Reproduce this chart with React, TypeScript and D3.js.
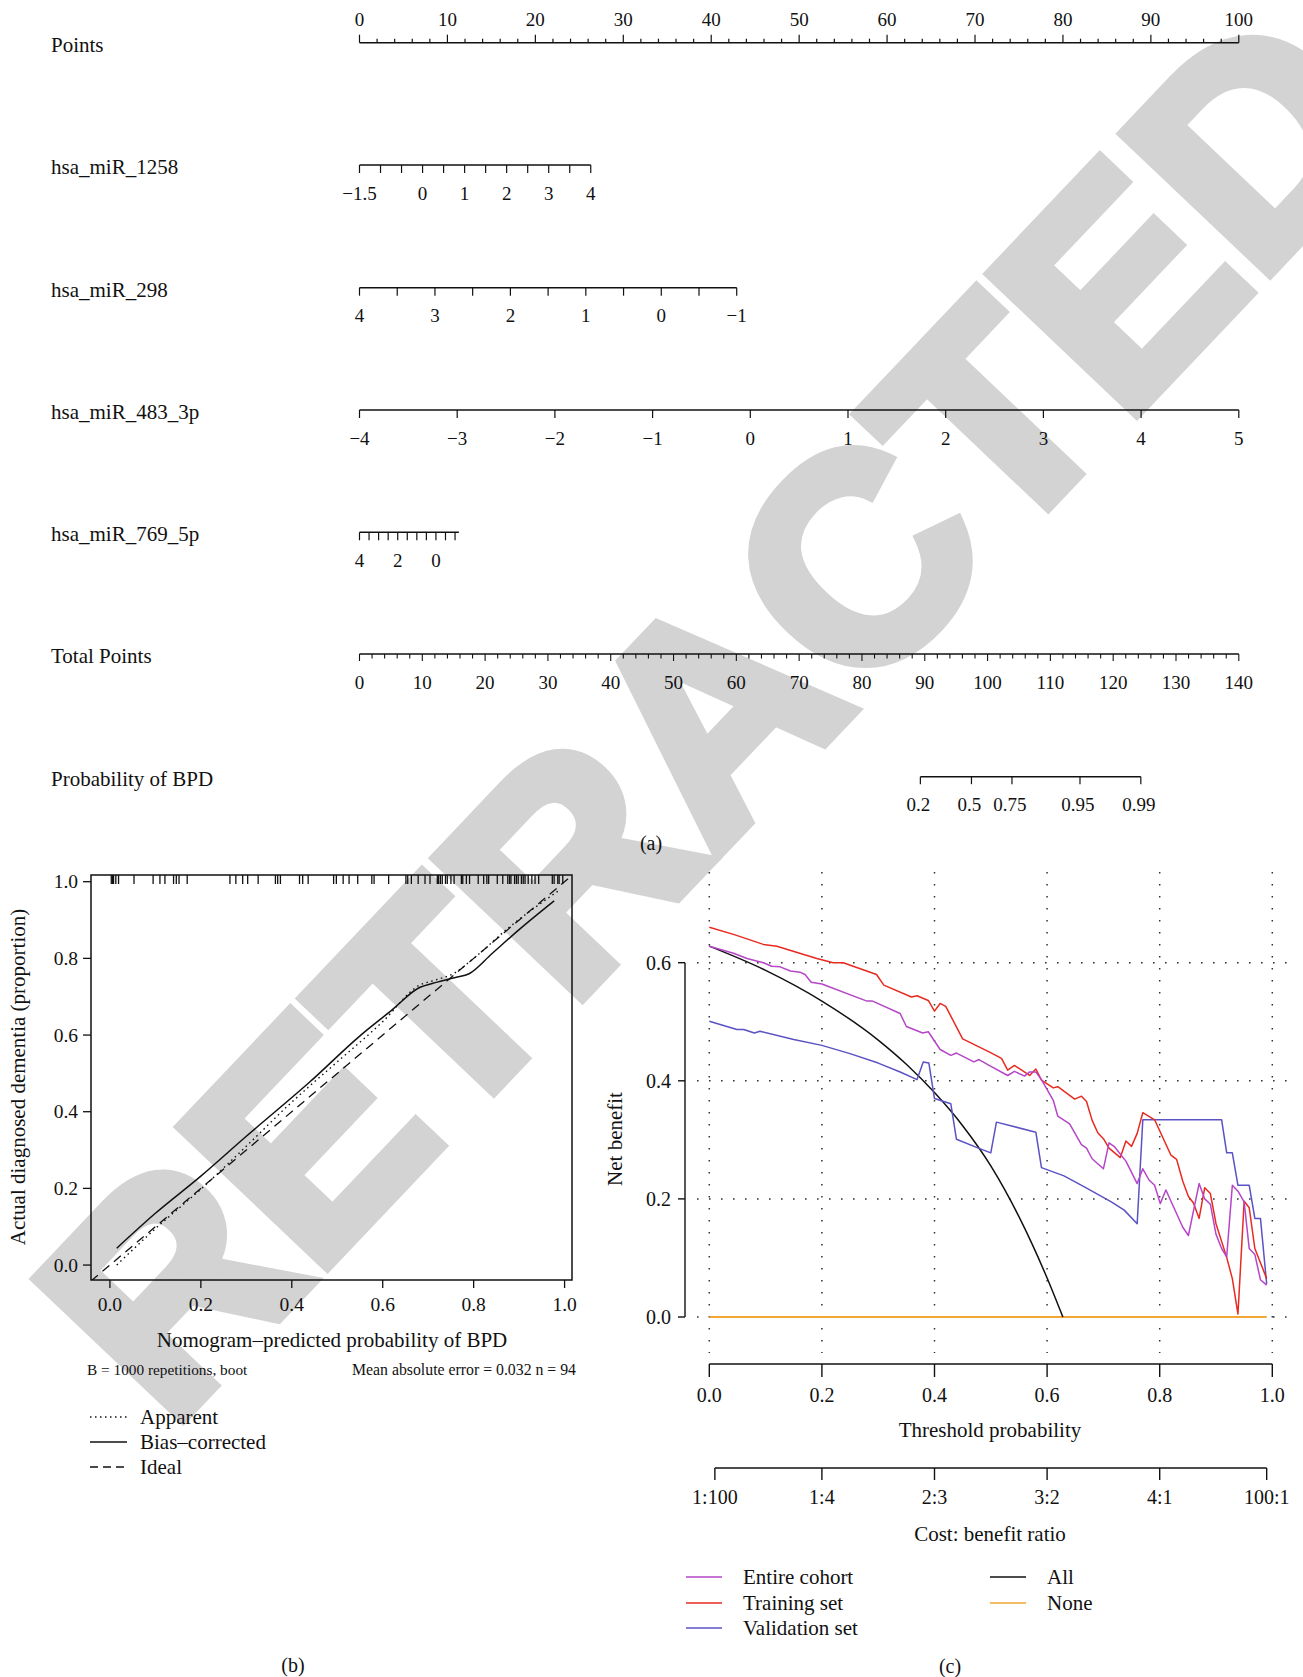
import React, {useEffect, useRef} from "react";
import * as d3 from "d3";

const SERIF = "'Liberation Serif', 'Times New Roman', serif";
const W = 1303;
const H = 1677;

// ---- (a) nomogram ----
const pointsLabels = [0, 10, 20, 30, 40, 50, 60, 70, 80, 90, 100];
const varNames = ["hsa_miR_1258", "hsa_miR_298", "hsa_miR_483_3p", "hsa_miR_769_5p"];
const varRange = [[-1.5, 4], [4, -1], [-4, 5], [4, -1.2]];
const varPointsMax = [26.3, 42.9, 100, 11.3];
const varTicks = [
    [-1.5, -1, -0.5, 0, 0.5, 1, 1.5, 2, 2.5, 3, 3.5, 4],
    [4, 3.5, 3, 2.5, 2, 1.5, 1, 0.5, 0, -0.5, -1],
    [-4, -3, -2, -1, 0, 1, 2, 3, 4, 5],
    [4, 3.5, 3, 2.5, 2, 1.5, 1, 0.5, 0, -0.5, -1],
];
const varLabels = [
    [-1.5, 0, 1, 2, 3, 4],
    [4, 3, 2, 1, 0, -1],
    [-4, -3, -2, -1, 0, 1, 2, 3, 4, 5],
    [4, 2, 0],
];
const totalLabels = [0, 10, 20, 30, 40, 50, 60, 70, 80, 90, 100, 110, 120, 130, 140];
const probTicks = [0.2, 0.5, 0.75, 0.95, 0.99];
const probTickText = ["0.2", "0.5", "0.75", "0.95", "0.99"];
const probTotalRange = [89.3, 124.4];

// ---- (b) calibration ----
const rugValues = [0.003, 0.006, 0.008, 0.013, 0.019, 0.053, 0.095, 0.11, 0.121, 0.14, 0.146, 0.152, 0.17,
    0.264, 0.277, 0.292, 0.303, 0.326, 0.364, 0.369, 0.375, 0.417, 0.424, 0.436, 0.492, 0.498, 0.513, 0.526,
    0.545, 0.576, 0.581, 0.613, 0.651, 0.655, 0.663, 0.678, 0.693, 0.704, 0.72, 0.723, 0.727, 0.731, 0.738,
    0.742, 0.75, 0.757, 0.773, 0.776, 0.784, 0.791, 0.81, 0.822, 0.829, 0.833, 0.852, 0.864, 0.875, 0.879,
    0.882, 0.89, 0.894, 0.898, 0.905, 0.909, 0.913, 0.92, 0.928, 0.935, 0.943, 0.973, 0.977, 0.985, 0.988, 0.996];
const apparent = [[0.015, 0.0], [0.1, 0.095], [0.2, 0.198], [0.3, 0.31], [0.4, 0.425], [0.5, 0.53],
    [0.6, 0.635], [0.678, 0.728], [0.72, 0.745], [0.755, 0.76], [0.8, 0.8], [0.875, 0.878], [0.985, 0.975]];
const biasCorrected = [[0.015, 0.044], [0.1, 0.135], [0.2, 0.232], [0.3, 0.336], [0.44, 0.478], [0.55, 0.598],
    [0.62, 0.665], [0.678, 0.722], [0.72, 0.738], [0.76, 0.75], [0.79, 0.76], [0.84, 0.812], [0.9, 0.875], [0.977, 0.95]];
const ideal = [[-0.0416, -0.0416], [1.0163, 1.0163]];
const calTicks = [0, 0.2, 0.4, 0.6, 0.8, 1.0];

// ---- (c) decision curve ----
const trainingSet = [[0, 0.66], [0.043, 0.648], [0.096, 0.631], [0.12, 0.628], [0.191, 0.607], [0.22, 0.6],
    [0.238, 0.6], [0.297, 0.58], [0.31, 0.562], [0.359, 0.542], [0.369, 0.544], [0.389, 0.536], [0.4, 0.518],
    [0.41, 0.531], [0.42, 0.526], [0.45, 0.471], [0.497, 0.449], [0.519, 0.438], [0.53, 0.418], [0.542, 0.426],
    [0.569, 0.409], [0.58, 0.42], [0.59, 0.401], [0.611, 0.388], [0.619, 0.39], [0.649, 0.369], [0.661, 0.374],
    [0.67, 0.365], [0.68, 0.333], [0.69, 0.312], [0.7, 0.302], [0.71, 0.286], [0.73, 0.27], [0.74, 0.298],
    [0.75, 0.289], [0.76, 0.311], [0.77, 0.346], [0.791, 0.334], [0.82, 0.274], [0.83, 0.267], [0.841, 0.23],
    [0.851, 0.204], [0.86, 0.193], [0.87, 0.167], [0.88, 0.219], [0.89, 0.209], [0.9, 0.158], [0.919, 0.101],
    [0.929, 0.065], [0.939, 0.005], [0.95, 0.196], [0.959, 0.185], [0.969, 0.116], [0.99, 0.065]];
const entireCohort = [[0, 0.628], [0.043, 0.616], [0.067, 0.607], [0.096, 0.6], [0.111, 0.594], [0.126, 0.593],
    [0.144, 0.586], [0.161, 0.584], [0.17, 0.58], [0.181, 0.567], [0.2, 0.564], [0.28, 0.535], [0.29, 0.535],
    [0.339, 0.514], [0.35, 0.492], [0.379, 0.481], [0.389, 0.483], [0.41, 0.453], [0.429, 0.443], [0.439, 0.447],
    [0.47, 0.432], [0.479, 0.436], [0.497, 0.426], [0.53, 0.409], [0.542, 0.416], [0.56, 0.408], [0.569, 0.415],
    [0.58, 0.415], [0.59, 0.402], [0.611, 0.367], [0.619, 0.34], [0.64, 0.327], [0.661, 0.292], [0.67, 0.286],
    [0.68, 0.268], [0.7, 0.251], [0.71, 0.295], [0.72, 0.288], [0.74, 0.264], [0.76, 0.226], [0.77, 0.251],
    [0.781, 0.232], [0.791, 0.223], [0.801, 0.192], [0.811, 0.215], [0.841, 0.152], [0.851, 0.138], [0.87, 0.226],
    [0.88, 0.2], [0.89, 0.191], [0.9, 0.14], [0.91, 0.116], [0.919, 0.102], [0.929, 0.223], [0.939, 0.213],
    [0.95, 0.195], [0.959, 0.116], [0.969, 0.106], [0.979, 0.063], [0.99, 0.054]];
const validationSet = [[0, 0.501], [0.049, 0.487], [0.061, 0.487], [0.08, 0.481], [0.09, 0.484], [0.15, 0.47],
    [0.2, 0.46], [0.25, 0.446], [0.3, 0.43], [0.339, 0.415], [0.369, 0.402], [0.38, 0.432], [0.39, 0.43],
    [0.4, 0.37], [0.429, 0.361], [0.439, 0.301], [0.478, 0.286], [0.5, 0.278], [0.51, 0.33], [0.58, 0.313],
    [0.59, 0.253], [0.63, 0.239], [0.667, 0.22], [0.714, 0.195], [0.737, 0.181], [0.76, 0.158], [0.77, 0.334],
    [0.91, 0.334], [0.919, 0.278], [0.929, 0.278], [0.939, 0.223], [0.959, 0.223], [0.969, 0.167], [0.979, 0.167],
    [0.99, 0.056]];
const treatAll = [[0, 0.628], [0.1, 0.587], [0.2, 0.535], [0.3, 0.469], [0.35, 0.428], [0.4, 0.38],
    [0.45, 0.324], [0.5, 0.256], [0.55, 0.17], [0.6, 0.066], [0.628, 0]];
const treatNone = [[0, 0], [0.99, 0]];
const dcaXTicks = [0, 0.2, 0.4, 0.6, 0.8, 1.0];
const dcaYTicks = [0, 0.2, 0.4, 0.6];
const costTicks = [0.0099, 0.2, 0.4, 0.6, 0.8, 0.99];
const costLabels = ["1:100", "1:4", "2:3", "3:2", "4:1", "100:1"];

const dcaSeries = [
    {name: "Entire cohort", data: entireCohort, color: "#b646c8"},
    {name: "Training set", data: trainingSet, color: "#e82a20"},
    {name: "Validation set", data: validationSet, color: "#5b52c4"},
    {name: "All", data: treatAll, color: "#111111"},
    {name: "None", data: treatNone, color: "#f2a633"},
];

const fmtNum = (v: number) => (v < 0 ? "\u2212" + Math.abs(v) : String(v));

const App: React.FC = () => {
    const ref = useRef<SVGSVGElement | null>(null);

    useEffect(() => {
        if (!ref.current) return;
        const svg = d3.select(ref.current);
        svg.selectAll("*").remove();

        // watermark
        svg.append("text")
            .attr("transform", "translate(712,712) rotate(-46.5)")
            .attr("text-anchor", "middle")
            .attr("dominant-baseline", "central")
            .attr("font-family", "'Liberation Sans', Arial, sans-serif")
            .attr("font-weight", "bold")
            .attr("font-size", 290)
            .attr("fill", "#d3d3d3")
            .attr("stroke", "#d3d3d3")
            .attr("stroke-width", 14)
            .attr("stroke-linejoin", "miter")
            .text("RETRACTED");

        const g = svg.append("g").attr("font-family", SERIF).attr("fill", "#111");
        const seg = (x1: number, y1: number, x2: number, y2: number, w = 1.4) =>
            g.append("line").attr("x1", x1).attr("y1", y1).attr("x2", x2).attr("y2", y2)
                .attr("stroke", "#111").attr("stroke-width", w);
        const txt = (x: number, y: number, s: string, size: number, anchor = "middle") =>
            g.append("text").attr("x", x).attr("y", y).attr("font-size", size)
                .attr("text-anchor", anchor).text(s);

        // ---------- (a) nomogram ----------
        const rowY = [42.7, 165, 287.7, 410, 532.3, 654, 776.7];
        const px = d3.scaleLinear().domain([0, 100]).range([359.5, 1238.8]);
        const tx = d3.scaleLinear().domain([0, 140]).range([359.5, 1238.8]);
        const LABEL = 21;
        const TICK = 19;

        // Points
        txt(51, rowY[0] + 9, "Points", LABEL, "start");
        seg(px(0), rowY[0], px(100), rowY[0]);
        d3.range(0, 101, 2).forEach((v) => seg(px(v), rowY[0], px(v), rowY[0] - (v % 10 === 0 ? 8 : 4), 1.2));
        pointsLabels.forEach((v) => txt(px(v), rowY[0] - 17, String(v), TICK));

        varNames.forEach((name, i) => {
            const y = rowY[i + 1];
            const s = d3.scaleLinear().domain(varRange[i]).range([px(0), px(varPointsMax[i])]);
            txt(51, y + 9, name, LABEL, "start");
            seg(s(varRange[i][0]), y, s(varRange[i][1]), y);
            varTicks[i].forEach((v) => seg(s(v), y, s(v), y + 8, 1.2));
            varLabels[i].forEach((v) => txt(s(v), y + 34.5, fmtNum(v), TICK));
        });

        // Total points
        const yT = rowY[5];
        txt(51, yT + 9, "Total Points", LABEL, "start");
        seg(tx(0), yT, tx(140), yT);
        d3.range(0, 141, 2).forEach((v) => seg(tx(v), yT, tx(v), yT + (v % 10 === 0 ? 7 : 4.5), 1.1));
        totalLabels.forEach((v) => txt(tx(v), yT + 34.5, String(v), TICK));

        // Probability
        const yP = rowY[6];
        const logit = (p: number) => Math.log(p / (1 - p));
        const ps = d3.scaleLinear()
            .domain([logit(probTicks[0]), logit(probTicks[probTicks.length - 1])])
            .range([tx(probTotalRange[0]), tx(probTotalRange[1])]);
        txt(51, yP + 9, "Probability of BPD", LABEL, "start");
        seg(ps(logit(0.2)), yP, ps(logit(0.99)), yP);
        probTicks.forEach((p, i) => {
            seg(ps(logit(p)), yP, ps(logit(p)), yP + 7.5, 1.2);
            txt(ps(logit(p)) - 2, yP + 34.5, probTickText[i], TICK);
        });
        txt(651, 850, "(a)", 20);

        // ---------- (b) calibration ----------
        const cx = d3.scaleLinear().domain([-0.0416, 1.0163]).range([91, 572]);
        const cy = d3.scaleLinear().domain([-0.039, 1.0175]).range([1280, 875]);
        svg.append("defs").append("clipPath").attr("id", "calclip")
            .append("rect").attr("x", 91).attr("y", 875).attr("width", 481).attr("height", 405);
        g.append("rect").attr("x", 91).attr("y", 875).attr("width", 481).attr("height", 405)
            .attr("fill", "none").attr("stroke", "#111").attr("stroke-width", 1.5);
        calTicks.forEach((v) => {
            seg(cx(v), 1280, cx(v), 1288, 1.3);
            txt(cx(v), 1311, d3.format(".1f")(v), 19.5);
            seg(83, cy(v), 91, cy(v), 1.3);
            txt(78, cy(v) + 6.5, d3.format(".1f")(v), 19.5, "end");
        });
        rugValues.forEach((v) => seg(cx(v), 875, cx(v), 884, 1.3));
        const calLine = d3.line<number[]>().x((d) => cx(d[0])).y((d) => cy(d[1])).curve(d3.curveMonotoneX);
        const cg = g.append("g").attr("clip-path", "url(#calclip)").attr("fill", "none").attr("stroke", "#111");
        cg.append("path").attr("d", calLine(ideal)).attr("stroke-width", 1.3).attr("stroke-dasharray", "9,6");
        cg.append("path").attr("d", calLine(apparent)).attr("stroke-width", 1.4).attr("stroke-dasharray", "1.5,3.5");
        cg.append("path").attr("d", calLine(biasCorrected)).attr("stroke-width", 1.5);

        txt(332, 1347, "Nomogram\u2013predicted probability of BPD", 21);
        g.append("text").attr("transform", "translate(25,1077) rotate(-90)").attr("text-anchor", "middle")
            .attr("font-size", 21).text("Actual diagnosed dementia (proportion)");
        txt(87, 1375, "B = 1000 repetitions, boot", 15.3, "start");
        txt(576, 1375, "Mean absolute error = 0.032 n = 94", 15.8, "end");
        const calLegend = [
            {name: "Apparent", dash: "1.5,3.5"},
            {name: "Bias\u2013corrected", dash: null},
            {name: "Ideal", dash: "8,5"},
        ];
        calLegend.forEach((d, i) => {
            const y = 1417 + i * 25;
            const l = seg(90, y, 127, y, 1.4);
            if (d.dash) l.attr("stroke-dasharray", d.dash);
            txt(140, y + 7, d.name, 21, "start");
        });
        txt(293, 1672, "(b)", 20);

        // ---------- (c) decision curve ----------
        const dx = d3.scaleLinear().domain([0, 1]).range([709.3, 1272.3]);
        const dy = d3.scaleLinear().domain([0, 0.6]).range([1317, 962.7]);
        dcaXTicks.forEach((v) =>
            g.append("line").attr("x1", dx(v)).attr("x2", dx(v)).attr("y1", 872).attr("y2", 1353)
                .attr("stroke", "#333").attr("stroke-width", 1.5).attr("stroke-dasharray", "1.6,10.4"));
        dcaYTicks.forEach((v) =>
            g.append("line").attr("x1", 697).attr("x2", 1292).attr("y1", dy(v)).attr("y2", dy(v))
                .attr("stroke", "#333").attr("stroke-width", 1.5).attr("stroke-dasharray", "1.6,10.4"));

        const dcaLine = d3.line<number[]>().x((d) => dx(d[0])).y((d) => dy(d[1]));
        const dg = g.append("g").attr("fill", "none");
        [...dcaSeries].reverse().forEach((s) => {
            dg.append("path")
                .attr("d", s.name === "All" ? dcaLine.curve(d3.curveMonotoneX)(s.data) : dcaLine.curve(d3.curveLinear)(s.data))
                .attr("stroke", s.color).attr("stroke-width", s.name === "None" ? 2 : 1.5)
                .attr("stroke-linejoin", "round");
        });

        // y axis
        seg(685, dy(0), 685, dy(0.6), 1.4);
        dcaYTicks.forEach((v) => {
            seg(678, dy(v), 685, dy(v), 1.4);
            txt(671, dy(v) + 7, d3.format(".1f")(v), 20, "end");
        });
        g.append("text").attr("transform", "translate(622,1139) rotate(-90)").attr("text-anchor", "middle")
            .attr("font-size", 21).text("Net benefit");

        // x axis
        seg(dx(0), 1364, dx(1), 1364, 1.4);
        dcaXTicks.forEach((v) => {
            seg(dx(v), 1364, dx(v), 1377, 1.4);
            txt(dx(v), 1402, d3.format(".1f")(v), 20);
        });
        txt(990, 1437, "Threshold probability", 21);

        // cost:benefit axis
        seg(dx(costTicks[0]), 1468, dx(costTicks[costTicks.length - 1]), 1468, 1.4);
        costTicks.forEach((v, i) => {
            seg(dx(v), 1468, dx(v), 1480, 1.4);
            txt(dx(v), 1503.5, costLabels[i], 20);
        });
        txt(990, 1541, "Cost: benefit ratio", 21);

        // legend
        const legendPos = [[686, 1577], [686, 1603], [686, 1628], [990, 1577], [990, 1603]];
        dcaSeries.forEach((s, i) => {
            const [lx, ly] = legendPos[i];
            g.append("line").attr("x1", lx).attr("x2", lx + 36).attr("y1", ly).attr("y2", ly)
                .attr("stroke", s.color).attr("stroke-width", 1.6);
            txt(lx + 57, ly + 7, s.name, 21, "start");
        });
        txt(950, 1673, "(c)", 20);
    }, []);

    return (
        <svg
            ref={ref}
            width={W}
            height={H}
            viewBox={`0 0 ${W} ${H}`}
            style={{position: "absolute", left: 0, top: 0, display: "block", background: "#fff"}}
        ></svg>
    );
};

export default App;
